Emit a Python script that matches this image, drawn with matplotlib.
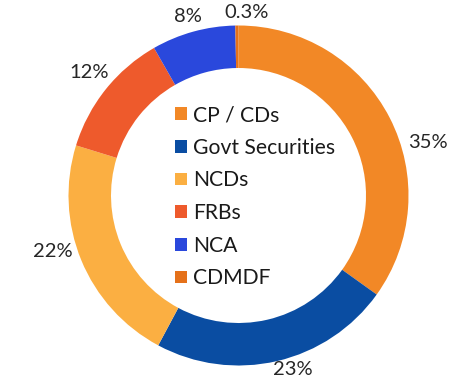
import matplotlib
matplotlib.use("Agg")
from matplotlib import pyplot as plt

# dati
categorie = ["CP / CDs", "Govt Securities", "NCDs", "FRBs", "NCA", "CDMDF"]
valori = [35, 23, 22, 12, 8, 0.3]
etichette = ["35%", "23%", "22%", "12%", "8%", "0.3%"]
colori = ["#F28826", "#0A4DA2", "#FBAF42", "#EE5A2C", "#2A48DC", "#E5711A"]

# posizioni delle etichette (centro = 0,0, raggio esterno = 1)
pos_etichette = [(1.115, 0.309), (0.321, -1.026), (-1.091, -0.332),
                 (-0.879, 0.726), (-0.297, 1.05), (0.05, 1.079)]

plt.rcParams['font.family'] = ['Lato', 'DejaVu Sans']

fig = plt.figure(figsize=(4.58, 3.9), dpi=100)
ax = fig.add_axes([0, 0, 1, 1])

wedges, _ = ax.pie(valori, colors=colori, startangle=90, counterclock=False,
                   radius=1.0, wedgeprops=dict(width=0.25, linewidth=0),
                   center=(0, 0))

for testo, (x, y) in zip(etichette, pos_etichette):
    ax.text(x, y, testo, ha='center', va='center', fontsize=14.5, color='#262626')

ax.set_xlim(-238.5 / 170, (458 - 238.5) / 170)
ax.set_ylim(-194.5 / 170, 195.5 / 170)
ax.set_aspect('equal')
ax.axis('off')

leg = ax.legend(wedges, categorie, loc='upper left',
                bbox_to_anchor=(175 / 458, 1 - 105 / 390),
                bbox_transform=fig.transFigure, frameon=False,
                fontsize=15.2, handlelength=0.55, handleheight=0.55,
                handletextpad=0.3, labelspacing=0.6, borderpad=0,
                borderaxespad=0)
for t in leg.get_texts():
    t.set_color('#1a1a1a')

fig.savefig("out.png", dpi=100)
